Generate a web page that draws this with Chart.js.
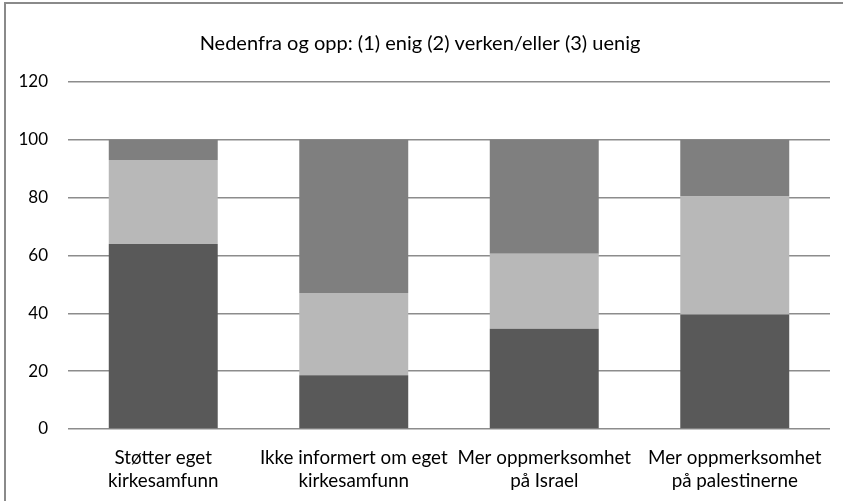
<!DOCTYPE html>
<html>
<head>
<meta charset="utf-8">
<script src="https://cdn.jsdelivr.net/npm/chart.js@4/dist/chart.umd.min.js"></script>
<style>
html,body{margin:0;padding:0;background:#fff;}
#wrap{width:846px;height:501px;position:relative;}
</style>
</head>
<body>
<div id="wrap"><canvas id="c" width="846" height="501"></canvas></div>
<script>
const titleText = "Nedenfra og opp: (1) enig (2) verken/eller (3) uenig";
const categories = [
  ["Støtter eget", "kirkesamfunn"],
  ["Ikke informert om eget", "kirkesamfunn"],
  ["Mer oppmerksomhet", "på Israel"],
  ["Mer oppmerksomhet", "på palestinerne"]
];
const seriesNames = ["(1) enig", "(2) verken/eller", "(3) uenig"];
const enig = [64, 18.6, 34.7, 39.6];
const verkenEller = [29, 28.4, 25.9, 40.8];
const uenig = [7, 53, 39.4, 19.6];
const yTicks = [0, 20, 40, 60, 80, 100, 120];

const FONT = "Lato, 'Liberation Sans', sans-serif";

const borderPlugin = {
  id: 'outerBorder',
  afterDraw(chart) {
    const ctx = chart.ctx;
    ctx.save();
    ctx.strokeStyle = '#8a8a8a';
    ctx.lineWidth = 2;
    ctx.beginPath();
    ctx.moveTo(5, 501);
    ctx.lineTo(5, 3);
    ctx.lineTo(843, 3);
    ctx.stroke();
    ctx.restore();
  }
};

new Chart(document.getElementById('c'), {
  type: 'bar',
  data: {
    labels: categories,
    datasets: [
      { label: seriesNames[0], data: enig, backgroundColor: '#595959' },
      { label: seriesNames[1], data: verkenEller, backgroundColor: '#b8b8b8' },
      { label: seriesNames[2], data: uenig, backgroundColor: '#7f7f7f' }
    ]
  },
  options: {
    responsive: false,
    animation: false,
    devicePixelRatio: 1,
    layout: { padding: { left: 10, right: 16, top: 0, bottom: 0 } },
    datasets: { bar: { categoryPercentage: 1, barPercentage: 0.572 } },
    plugins: {
      legend: { display: false },
      tooltip: { enabled: false },
      title: {
        display: true,
        text: titleText,
        color: '#000',
        font: { family: FONT, size: 20, weight: 'normal' },
        padding: { top: 32, bottom: 26 }
      }
    },
    scales: {
      x: {
        stacked: true,
        grid: { display: false, drawTicks: false },
        border: { display: false },
        ticks: { color: '#000', font: { family: FONT, size: 18.8, lineHeight: 1.25 }, padding: 17, maxRotation: 0, autoSkip: false },
        afterFit(scale) { scale.height = 72; }
      },
      y: {
        stacked: true,
        min: 0, max: 120,
        afterBuildTicks(scale) { scale.ticks = yTicks.map(v => ({ value: v })); },
        grid: { color: '#8c8c8c', lineWidth: 1.5, drawTicks: false },
        border: { display: false },
        ticks: { color: '#000', font: { family: FONT, size: 17 }, padding: 20 },
        afterFit(scale) { scale.width = 58; }
      }
    }
  },
  plugins: [borderPlugin]
});
</script>
</body>
</html>
